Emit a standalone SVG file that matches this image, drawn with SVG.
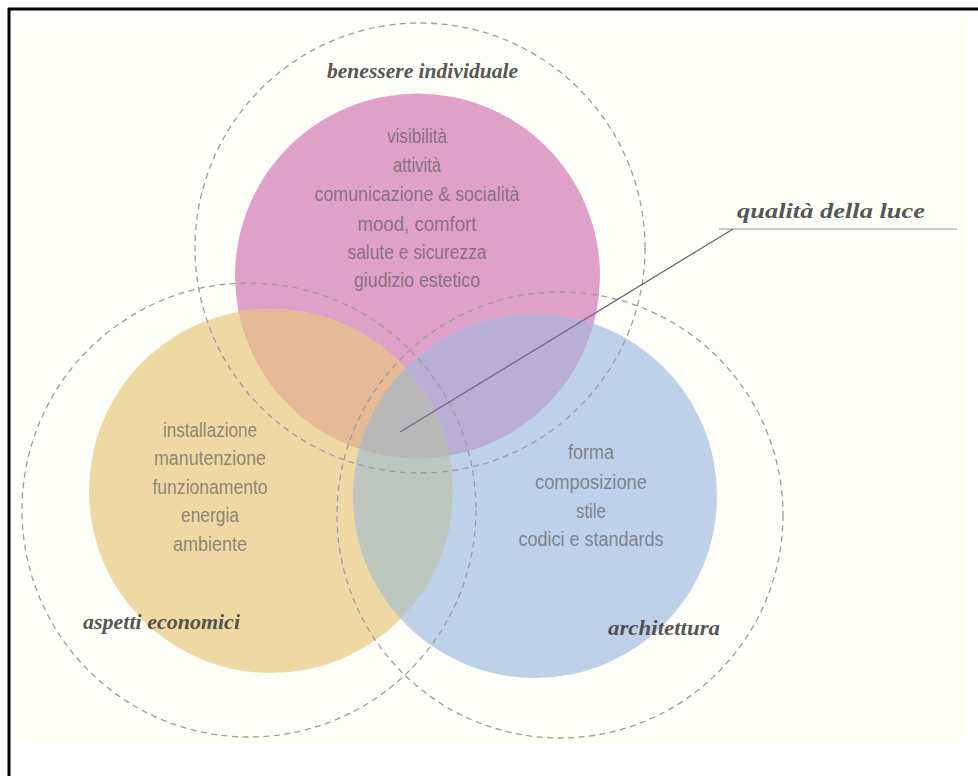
<svg xmlns="http://www.w3.org/2000/svg" width="978" height="776" viewBox="0 0 978 776">
<style>
.dash{fill:none;stroke:#9c9c9c;stroke-width:1.3;stroke-dasharray:6 4.5}
.item{font-family:"Liberation Sans Narrow","Liberation Sans",Arial,sans-serif;font-size:20.5px;fill:#555;fill-opacity:0.65;text-anchor:middle}
.lab{font-family:"Liberation Serif","DejaVu Serif",serif;font-style:italic;font-weight:bold;font-size:20px;fill:#3e3e3e;fill-opacity:0.9}
</style>
<defs>
<clipPath id="cP"><circle cx="417.5" cy="276" r="182.5"/></clipPath>
<clipPath id="cY"><circle cx="271" cy="491" r="182"/></clipPath>
</defs>
<rect width="978" height="776" fill="#ffffff"/>
<rect x="16" y="17" width="950" height="726" fill="#fefef9"/>
<line x1="8" y1="9" x2="978" y2="9" stroke="#000" stroke-width="3"/>
<line x1="9" y1="8" x2="9" y2="776" stroke="#000" stroke-width="3"/>

<g id="fills">
<circle cx="417.5" cy="276" r="182.5" fill="#dfa1c8"/>
<circle cx="271" cy="491" r="182" fill="#eed9a5"/>
<circle cx="535" cy="496" r="182" fill="#bfd0e9"/>
<circle cx="271" cy="491" r="182" fill="#e5ba96" clip-path="url(#cP)"/>
<circle cx="535" cy="496" r="182" fill="#b8aed6" clip-path="url(#cP)"/>
<circle cx="535" cy="496" r="182" fill="#bec6c0" clip-path="url(#cY)"/>
<g clip-path="url(#cP)"><circle cx="535" cy="496" r="182" fill="#b9b8b9" clip-path="url(#cY)"/></g>
</g>

<g id="benessere">
<circle class="dash" cx="420" cy="248" r="225"/>
<text class="lab" x="327" y="78" textLength="191" lengthAdjust="spacingAndGlyphs">benessere individuale</text>
<text class="item" x="417" y="143" textLength="60" lengthAdjust="spacingAndGlyphs">visibilità</text>
<text class="item" x="417" y="172" textLength="48" lengthAdjust="spacingAndGlyphs">attività</text>
<text class="item" x="417" y="201" textLength="205" lengthAdjust="spacingAndGlyphs">comunicazione &amp; socialità</text>
<text class="item" x="417" y="231" textLength="119" lengthAdjust="spacingAndGlyphs">mood, comfort</text>
<text class="item" x="417" y="259" textLength="139" lengthAdjust="spacingAndGlyphs">salute e sicurezza</text>
<text class="item" x="417" y="287" textLength="126" lengthAdjust="spacingAndGlyphs">giudizio estetico</text>
</g>

<g id="economici">
<circle class="dash" cx="249" cy="510" r="227"/>
<text class="item" x="210" y="437" textLength="94" lengthAdjust="spacingAndGlyphs">installazione</text>
<text class="item" x="210" y="465" textLength="112" lengthAdjust="spacingAndGlyphs">manutenzione</text>
<text class="item" x="210" y="494" textLength="115" lengthAdjust="spacingAndGlyphs">funzionamento</text>
<text class="item" x="210" y="522" textLength="58" lengthAdjust="spacingAndGlyphs">energia</text>
<text class="item" x="210" y="551" textLength="74" lengthAdjust="spacingAndGlyphs">ambiente</text>
<text class="lab" x="83" y="629" textLength="157" lengthAdjust="spacingAndGlyphs">aspetti economici</text>
</g>

<g id="architettura">
<circle class="dash" cx="560" cy="515" r="223"/>
<text class="item" x="591" y="459" textLength="46" lengthAdjust="spacingAndGlyphs">forma</text>
<text class="item" x="591" y="489" textLength="112" lengthAdjust="spacingAndGlyphs">composizione</text>
<text class="item" x="591" y="518" textLength="30" lengthAdjust="spacingAndGlyphs">stile</text>
<text class="item" x="591" y="546" textLength="145" lengthAdjust="spacingAndGlyphs">codici e standards</text>
<text class="lab" x="608" y="635" textLength="112" lengthAdjust="spacingAndGlyphs">architettura</text>
</g>

<g id="qualita">
<text class="lab" x="737" y="218" font-size="24" textLength="188" lengthAdjust="spacingAndGlyphs">qualità della luce</text>
</g>

<g id="connectors">
<line x1="719" y1="229" x2="957" y2="229" stroke="#9a9a9a" stroke-width="1.1"/>
<line x1="400" y1="432" x2="733" y2="229" stroke="#6c6880" stroke-width="1.3"/>
</g>
</svg>
